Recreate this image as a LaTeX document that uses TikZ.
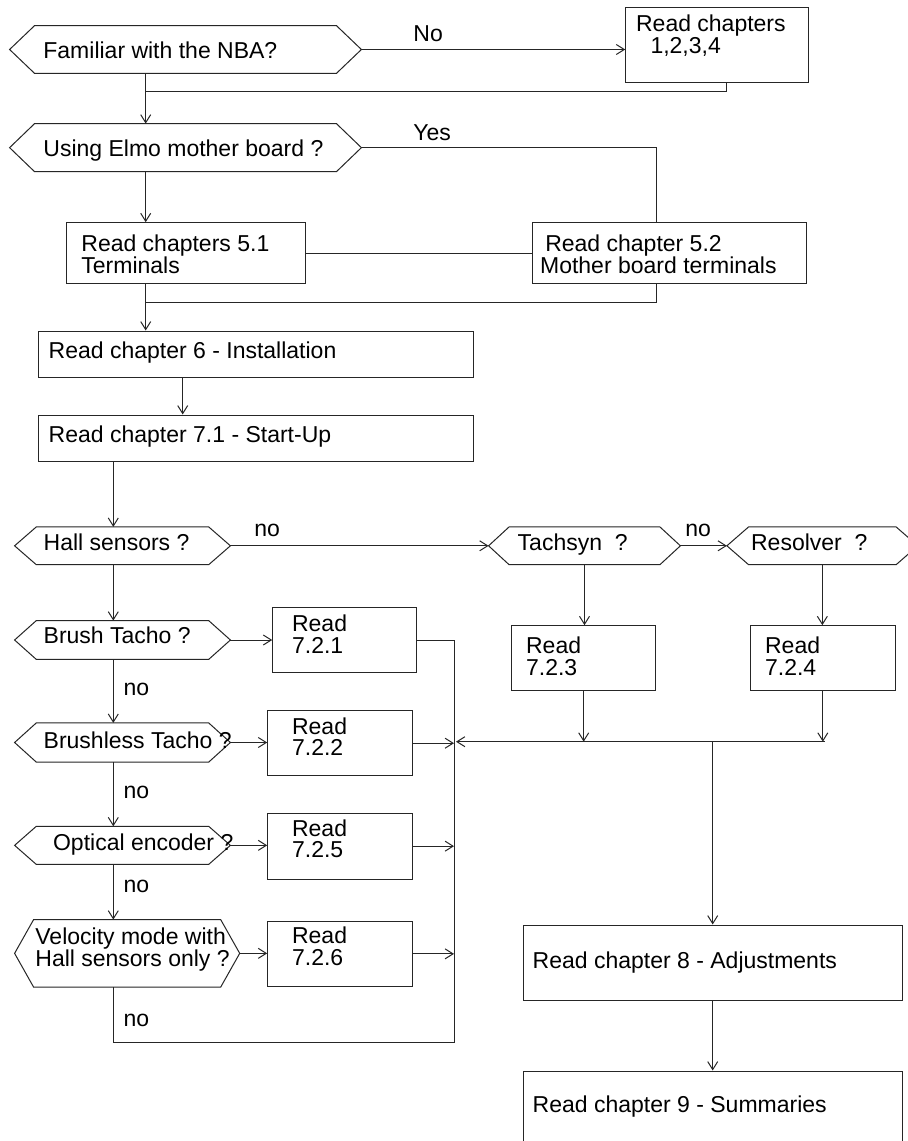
\documentclass[tikz,border=0pt]{standalone}
\usepackage{fontspec}
\setmainfont{Liberation Sans}
\usetikzlibrary{arrows.meta,calc,fit}
\tikzset{
  ln/.style={draw=black!85,line width=0.5pt},
  arr/.style={ln,-{Straight Barb[length=4pt,width=5pt]}},
  box/.style={ln,rectangle,inner sep=0pt},
  hexbase/.style={rectangle,inner sep=0pt},
  txt/.style={anchor=base west,inner sep=0pt,align=left,font=\fontsize{11.5pt}{10.8pt}\selectfont},
}
\newcommand\hexdraw[2]{\draw[ln] (#1.west) -- ($(#1.north west)+(#2,0)$) -- ($(#1.north east)+(-#2,0)$) -- (#1.east) -- ($(#1.south east)+(-#2,0)$) -- ($(#1.south west)+(#2,0)$) -- cycle;}
\begin{document}
\begin{tikzpicture}[x=0.5pt,y=-0.5pt]
\fill[white] (0,0) rectangle (908,1141);
\useasboundingbox (0,0) rectangle (908,1141);
% spine coordinates
\coordinate (cA) at (145.7,0);
\coordinate (cB) at (656.3,0);
\coordinate (cC) at (113.3,0);
\coordinate (cD) at (726.7,0);
\coordinate (cE) at (182.7,0);
\coordinate (cF) at (712.7,0);
\coordinate (j1) at (145.7,91.7);
\coordinate (j2) at (145.7,302.3);
\coordinate (jb) at (454,1042.3);
\coordinate (hb) at (456,741.7);
\coordinate (hr) at (824.7,741.7);
% decisions
\node[hexbase,fit={(10,26) (361,73)}] (h1) {}; \hexdraw{h1}{25}
\node[hexbase,fit={(10,124) (361,171.3)}] (h2) {}; \hexdraw{h2}{25}
\node[hexbase,fit={(15,527.3) (230,564.3)}] (hall) {}; \hexdraw{hall}{21.7}
\node[hexbase,fit={(489,527.3) (680,564.3)}] (tach) {}; \hexdraw{tach}{20.5}
\node[hexbase,fit={(727.3,527.3) (917.4,564.3)}] (res) {}; \hexdraw{res}{21.7}
\node[hexbase,fit={(15,621) (230,659)}] (brush) {}; \hexdraw{brush}{21.7}
\node[hexbase,fit={(15,723.3) (230,761.7)}] (bless) {}; \hexdraw{bless}{21.7}
\node[hexbase,fit={(15,826.7) (230,864)}] (opt) {}; \hexdraw{opt}{21.7}
\node[hexbase,fit={(15,920) (239.3,986.7)}] (vel) {}; \hexdraw{vel}{19}
% boxes
\node[box,fit={(625.7,7.3) (808.3,82)}] (b1) {};
\node[box,fit={(66.7,222.7) (305.3,283.3)}] (b51) {};
\node[box,fit={(532.7,222.7) (806.3,283.3)}] (b52) {};
\node[box,fit={(38.3,331) (473.3,377.3)}] (b6) {};
\node[box,fit={(38.3,415) (473.3,461.7)}] (b71) {};
\node[box,fit={(272.7,607.7) (416.7,672.7)}] (b721) {};
\node[box,fit={(511.7,625.7) (655.7,690.7)}] (b723) {};
\node[box,fit={(750.7,625.7) (895,690.7)}] (b724) {};
\node[box,fit={(267.7,710.7) (412.7,775.7)}] (b722) {};
\node[box,fit={(267.7,813.3) (412.7,879)}] (b725) {};
\node[box,fit={(267.7,921) (412.7,986.7)}] (b726) {};
\node[box,fit={(523,925) (902.3,1000)}] (b8) {};
\node[box,fit={(523,1071) (902.3,1146)}] (b9) {};
% texts (multi-line nodes: base = baseline of last line)
\node[txt] (t1) at (43,58) {Familiar with the NBA?};
\node[txt] (tb1) at (635.7,53.3) {Read chapters\\\hspace*{7.2pt}1,2,3,4};
\node[txt] (t2) at (43,156.5) {Using Elmo mother board ?};
\node[txt] (tb51) at (81,273.3) {Read chapters 5.1\\Terminals};
\node[txt] (tb52) at (539.7,273.3) {\hspace*{2.6pt}Read chapter 5.2\\Mother board terminals};
\node[txt] (tb6) at (48.3,358.3) {Read chapter 6 - Installation};
\node[txt] (tb71) at (48.3,442) {Read chapter 7.1 - Start-Up};
\node[txt] (thall) at (43.3,550) {Hall sensors ?};
\node[txt] (ttach) at (517.3,550) {Tachsyn\ \ ?};
\node[txt] (tres) at (750.7,550) {Resolver\ \ ?};
\node[txt] (tbrush) at (43.3,643.3) {Brush Tacho ?};
\node[txt] (tbless) at (43.3,748.3) {Brushless Tacho ?};
\node[txt] (topt) at (52.7,850.7) {Optical encoder ?};
\node[txt] (tvel) at (35,966.5) {Velocity mode with\\Hall sensors only ?};
\node[txt] (tb721) at (291.7,653.3) {Read\\7.2.1};
\node[txt] (tb723) at (525.7,675.5) {Read\\7.2.3};
\node[txt] (tb724) at (764.7,675.5) {Read\\7.2.4};
\node[txt] (tb722) at (291.7,755.6) {Read\\7.2.2};
\node[txt] (tb725) at (291.7,857.6) {Read\\7.2.5};
\node[txt] (tb726) at (291.7,965.5) {Read\\7.2.6};
\node[txt] (tb8) at (532.3,968.3) {Read chapter 8 - Adjustments};
\node[txt] (tb9) at (532.3,1112.3) {Read chapter 9 - Summaries};
% edge labels
\node[txt] (lno1) at (413,41.7) {No};
\node[txt] (lyes) at (413,140) {Yes};
\node[txt] (lno2) at (254,536.7) {no};
\node[txt] (lno3) at (685,536.7) {no};
\node[txt] (lno4) at (123.3,695) {no};
\node[txt] (lno5) at (123.3,798.3) {no};
\node[txt] (lno6) at (123.3,892) {no};
\node[txt] (lno7) at (123.3,1026.7) {no};
% connectors
\draw[arr] (h1.east) -- (b1.west |- h1.east);
\draw[ln] (b1.south -| cD) |- (j1);
\draw[arr] (h1.south -| cA) -- (h2.north -| cA);
\draw[ln] (h2.east) -| (b52.north -| cB);
\draw[arr] (h2.south -| cA) -- (b51.north -| cA);
\draw[ln] (b51.east) -- (b52.west);
\draw[ln] (b52.south -| cB) |- (j2);
\draw[arr] (b51.south -| cA) -- (b6.north -| cA);
\draw[arr] (b6.south -| cE) -- (b71.north -| cE);
\draw[arr] (b71.south -| cC) -- (hall.north -| cC);
\draw[arr] (hall.east) -- (tach.west);
\draw[arr] (tach.east) -- (res.west);
\draw[arr] (tach.south) -- (b723.north -| tach.south);
\draw[arr] (res.south) -- (b724.north -| res.south);
\draw[arr] (hall.south -| cC) -- (brush.north -| cC);
\draw[arr] (brush.east) -- (b721.west |- brush.east);
\draw[ln] (b721.east) -| (jb) -| (vel.south -| cC);
\draw[arr] (brush.south -| cC) -- (bless.north -| cC);
\draw[arr] (bless.east) -- (b722.west |- bless.east);
\draw[arr] (b722.east) -- (b722.east -| jb);
\draw[arr] (bless.south -| cC) -- (opt.north -| cC);
\draw[arr] (opt.east) -- (b725.west |- opt.east);
\draw[arr] (b725.east) -- (b725.east -| jb);
\draw[arr] (opt.south -| cC) -- (vel.north -| cC);
\draw[arr] (vel.east) -- (b726.west |- vel.east);
\draw[arr] (b726.east) -- (b726.east -| jb);
\draw[arr] (b723.south) -- (b723.south |- hb);
\draw[arr] (b724.south) -- (b724.south |- hb);
\draw[arr] (hr) -- (hb);
\draw[arr] (hb -| cF) -- (b8.north -| cF);
\draw[arr] (b8.south -| cF) -- (b9.north -| cF);
\end{tikzpicture}
\end{document}
